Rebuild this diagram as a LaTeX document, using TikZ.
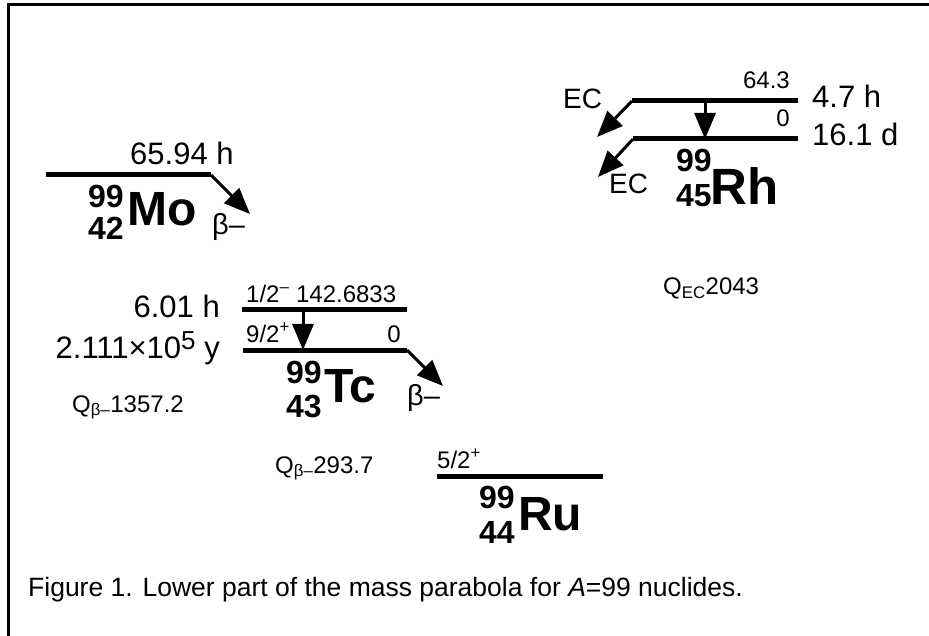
\documentclass[tikz,border=0pt]{standalone}
\usepackage{fontspec}
\setmainfont{Liberation Sans}
\usetikzlibrary{arrows.meta, positioning}

\newcommand{\fs}[1]{\fontsize{#1}{#1}\selectfont}

\begin{document}
\begin{tikzpicture}[x=1pt,y=-1pt,
  lvl/.style={line width=5pt},
  decay/.style={line width=3pt,-{Triangle[length=26pt,width=21pt]}},
  txt/.style={inner sep=0,font=\fs{31}},
  lbl/.style={inner sep=0,font=\fs{24}},
  mass/.style={inner sep=0,font=\bfseries\fs{32}},
  elem/.style={inner sep=0,font=\bfseries\fs{48}}]
\useasboundingbox (0,0) rectangle (929,636);

% frame
\coordinate (f1) at (929,5);
\coordinate (f2) at (8,5);
\coordinate (f3) at (8,636);
\draw[line width=3pt] (f1) -- (f2) -- (f3);

% Mo
\coordinate (mo-l) at (46,175);
\coordinate (mo-r) at (211,175);
\coordinate (mo-b) at (250,214);
\draw[lvl] (mo-l) -- (mo-r);
\draw[decay] (mo-r) -- (mo-b);
\node[txt,anchor=base west] (mo-t) at (130,165) {65.94 h};
\node[mass,anchor=base west] (mo-a) at (88,208) {99};
\node[mass,anchor=base west] (mo-z) at (88,240) {42};
\node[elem,anchor=base west] (mo) at (127,226) {Mo};
\node[txt,anchor=base west,font=\fs{29}] (mo-beta) at (212,235) {β–};

% Rh
\coordinate (rhm-l) at (632,101);
\coordinate (rhm-r) at (798,101);
\coordinate (rhg-l) at (633,139);
\coordinate (rhg-r) at (798,139);
\coordinate (rhm-ec) at (597,137);
\coordinate (rhg-ec) at (598,177);
\coordinate (rh-it1) at (705,101);
\coordinate (rh-it2) at (705,139);
\draw[lvl] (rhm-l) -- (rhm-r);
\draw[lvl] (rhg-l) -- (rhg-r);
\draw[decay] (rhm-l) -- (rhm-ec);
\draw[decay] (rhg-l) -- (rhg-ec);
\draw[decay] (rh-it1) -- (rh-it2);
\node[lbl,anchor=base east] (rhm-e) at (790,89) {64.3};
\node[lbl,anchor=base east] (rhg-e) at (790,127) {0};
\node[txt,anchor=base west,font=\fs{28}] (rh-ec1) at (563,109) {EC};
\node[txt,anchor=base west,font=\fs{28}] (rh-ec2) at (609,194) {EC};
\node[txt,anchor=base west] (rhm-t) at (812,108) {4.7 h};
\node[txt,anchor=base west] (rhg-t) at (812,146) {16.1 d};
\node[mass,anchor=base west] (rh-a) at (676,172) {99};
\node[mass,anchor=base west] (rh-z) at (676,207) {45};
\node[elem,anchor=base west,font=\bfseries\fs{51}] (rh) at (710,205) {Rh};

% Tc
\coordinate (tcm-l) at (242,310);
\coordinate (tcm-r) at (407,310);
\coordinate (tcg-l) at (243,350);
\coordinate (tcg-r) at (407,350);
\coordinate (tc-it1) at (303,310);
\coordinate (tc-it2) at (303,350);
\coordinate (tc-b) at (443,386);
\draw[lvl] (tcm-l) -- (tcm-r);
\draw[lvl] (tcg-l) -- (tcg-r);
\draw[decay] (tc-it1) -- (tc-it2);
\draw[decay] (tcg-r) -- (tc-b);
\node[lbl,anchor=base west] (tcm-e) at (246,302) {1/2\textsuperscript{–} 142.6833};
\node[lbl,anchor=base west] (tcg-s) at (246,342) {9/2\textsuperscript{+}};
\node[lbl,anchor=base east] (tcg-e) at (401,342) {0};
\node[txt,anchor=base east] (tcm-t) at (220,318) {6.01 h};
\node[txt,anchor=base east] (tcg-t) at (220,358)
  {2.111×10\raisebox{0.28em}{\fs{26}5} y};
\node[mass,anchor=base west] (tc-a) at (286,383) {99};
\node[mass,anchor=base west] (tc-z) at (286,417) {43};
\node[elem,anchor=base west] (tc) at (324,402) {Tc};
\node[txt,anchor=base west,font=\fs{29}] (tc-beta) at (407,405) {β–};

% Ru
\coordinate (ru-l) at (437,476);
\coordinate (ru-r) at (603,476);
\draw[lvl] (ru-l) -- (ru-r);
\node[lbl,anchor=base west] (ru-s) at (437,468) {5/2\textsuperscript{+}};
\node[mass,anchor=base west] (ru-a) at (479,508) {99};
\node[mass,anchor=base west] (ru-z) at (479,543) {44};
\node[elem,anchor=base west] (ru) at (518,530) {Ru};

% Q values
\node[lbl,anchor=base west] (q-mo) at (72,412) {Q\textsubscript{β–}1357.2};
\node[lbl,anchor=base west] (q-tc) at (275,473) {Q\textsubscript{β–}293.7};
\node[lbl,anchor=base west] (q-rh) at (663,295) {Q\textsubscript{EC}2043};

% caption
\node[inner sep=0,anchor=base west,font=\fs{26.5}] (cap) at (28,596)
  {Figure 1. Lower part of the mass parabola for \textit{A}=99 nuclides.};
\end{tikzpicture}
\end{document}
